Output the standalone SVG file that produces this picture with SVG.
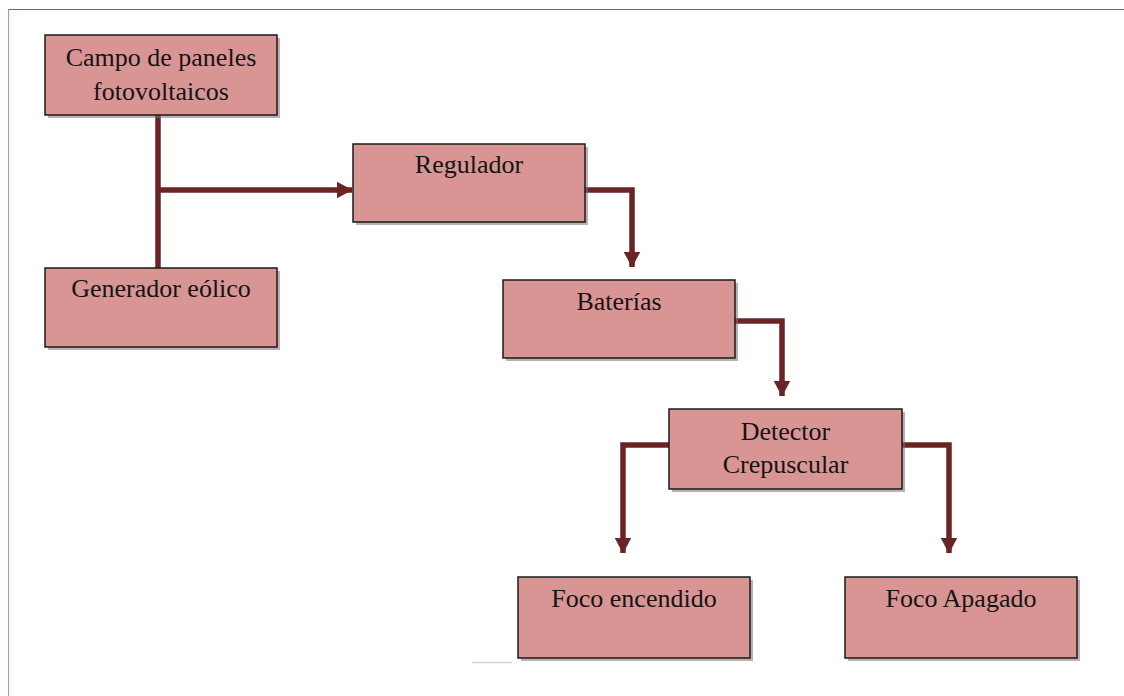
<svg xmlns="http://www.w3.org/2000/svg" width="1124" height="696" viewBox="0 0 1124 696">
<defs>
<style>
.box{fill:#D99594;stroke:#1a1a1a;stroke-width:1.5}
.shd{fill:#8a7070;opacity:0.55}
.lbl{font-family:"Liberation Serif","Times New Roman",serif;font-size:26px;fill:#141414;text-anchor:middle}
.con{fill:none;stroke:#6B2425;stroke-width:5.5;stroke-linejoin:miter}
</style>
<marker id="ah" markerUnits="userSpaceOnUse" viewBox="0 0 16 17" refX="15.5" refY="8.5" markerWidth="16" markerHeight="17" orient="auto">
<path d="M0,0 L16,8.5 L0,17 Z" fill="#6B2425"/>
</marker>
</defs>
<rect width="1124" height="696" fill="#ffffff"/>
<line x1="8" y1="9.5" x2="1124" y2="9.5" stroke="#B24A4A" stroke-width="1.2"/>
<line x1="8.5" y1="9" x2="8.5" y2="696" stroke="#D08A8A" stroke-width="1"/>
<line x1="472" y1="662.5" x2="512" y2="662.5" stroke="#e2cccc" stroke-width="1.5"/>

<g id="connectors">
<line class="con" x1="158" y1="115" x2="158" y2="268"/>
<line class="con" x1="158" y1="190" x2="352" y2="190" marker-end="url(#ah)"/>
<polyline class="con" points="585,190 632,190 632,267" marker-end="url(#ah)"/>
<polyline class="con" points="735,321 782,321 782,396" marker-end="url(#ah)"/>
<polyline class="con" points="669,445 623,445 623,553" marker-end="url(#ah)"/>
<polyline class="con" points="902,445 949,445 949,553" marker-end="url(#ah)"/>
</g>

<g id="campo">
<rect class="shd" x="48" y="38" width="232" height="80"/>
<rect class="box" x="45" y="35" width="232" height="80"/>
<text class="lbl" x="161" y="66">Campo de paneles</text>
<text class="lbl" x="161" y="100">fotovoltaicos</text>
</g>
<g id="generador">
<rect class="shd" x="48" y="271" width="232" height="79"/>
<rect class="box" x="45" y="268" width="232" height="79"/>
<text class="lbl" x="161" y="297">Generador eólico</text>
</g>
<g id="regulador">
<rect class="shd" x="356" y="147" width="232" height="78"/>
<rect class="box" x="353" y="144" width="232" height="78"/>
<text class="lbl" x="469" y="173">Regulador</text>
</g>
<g id="baterias">
<rect class="shd" x="506" y="283" width="232" height="78"/>
<rect class="box" x="503" y="280" width="232" height="78"/>
<text class="lbl" x="619" y="310">Baterías</text>
</g>
<g id="detector">
<rect class="shd" x="672" y="412" width="233" height="80"/>
<rect class="box" x="669" y="409" width="233" height="80"/>
<text class="lbl" x="785.5" y="440">Detector</text>
<text class="lbl" x="785.5" y="473">Crepuscular</text>
</g>
<g id="foco-encendido">
<rect class="shd" x="521" y="580" width="232" height="81"/>
<rect class="box" x="518" y="577" width="232" height="81"/>
<text class="lbl" x="634" y="607">Foco encendido</text>
</g>
<g id="foco-apagado">
<rect class="shd" x="848" y="580" width="232" height="81"/>
<rect class="box" x="845" y="577" width="232" height="81"/>
<text class="lbl" x="961" y="607">Foco Apagado</text>
</g>
</svg>
